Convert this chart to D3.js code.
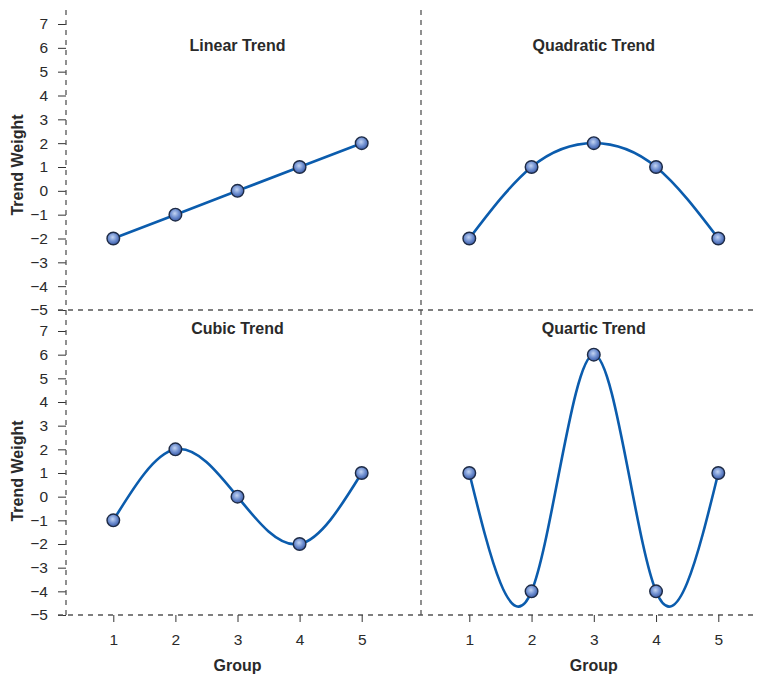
<!DOCTYPE html>
<html><head><meta charset="utf-8">
<script src="https://cdn.jsdelivr.net/npm/d3@7"></script>
<style>body{margin:0;background:#fff}svg{display:block}</style>
</head><body>
<svg id="c" width="757" height="675"></svg>
<script>
const groups = [1, 2, 3, 4, 5];
const linear = [-2, -1, 0, 1, 2];
const quadratic = [-2, 1, 2, 1, -2];
const cubic = [-1, 2, 0, -2, 1];
const quartic = [1, -4, 6, -4, 1];
const yTicks = [-5, -4, -3, -2, -1, 0, 1, 2, 3, 4, 5, 6, 7];
const titles = ["Linear Trend", "Quadratic Trend", "Cubic Trend", "Quartic Trend"];

const svg = d3.select("#c");
const font = "'Liberation Sans', Arial, sans-serif";
const defs = svg.append("defs");
const grad = defs.append("radialGradient").attr("id", "dot").attr("cx", "45%").attr("cy", "40%").attr("r", "60%");
grad.append("stop").attr("offset", "0%").attr("stop-color", "#c3d4f2");
grad.append("stop").attr("offset", "55%").attr("stop-color", "#6f8fd0");
grad.append("stop").attr("offset", "100%").attr("stop-color", "#3a5aa6");

const rows = [{y0: 310, y1: 24, ty: 51}, {y0: 615, y1: 331, ty: 334}];
const cols = [{x0: 113.3, x1: 361.7}, {x0: 469.3, x1: 718.3}];
const panels = [
  {r: 0, c: 0, data: linear, title: titles[0]},
  {r: 0, c: 1, data: quadratic, title: titles[1]},
  {r: 1, c: 0, data: cubic, title: titles[2]},
  {r: 1, c: 1, data: quartic, title: titles[3]}
];
const dash = "5,5";
const gridColor = "#555";
const txt = "#2a2a2a";

// y axes
rows.forEach((rw, i) => {
  const y = d3.scaleLinear().domain([-5, 7]).range([rw.y0, rw.y1]);
  const g = svg.append("g").attr("transform", "translate(66,0)");
  const ax = d3.axisLeft(y).tickValues(yTicks).tickSize(8).tickSizeOuter(0)
    .tickFormat(d => d < 0 ? "\u2212" + Math.abs(d) : d);
  g.call(ax);
  g.select(".domain").remove();
  g.selectAll(".tick line").attr("stroke", "#333").attr("stroke-width", 1);
  g.selectAll(".tick text").attr("font-family", font).attr("font-size", 15.5).attr("fill", txt).attr("x", -18);
  svg.append("text").attr("font-family", font).attr("font-size", 16).attr("font-weight", "bold").attr("fill", txt)
    .attr("text-anchor", "middle")
    .attr("transform", `translate(23,${(rw.y0 + rw.y1) / 2 - 2}) rotate(-90)`)
    .text("Trend Weight");
});

// dashed frame lines
svg.append("line").attr("x1", 66).attr("x2", 66).attr("y1", 10).attr("y2", 615)
  .attr("stroke", gridColor).attr("stroke-width", 1.3).attr("stroke-dasharray", dash);
svg.append("line").attr("x1", 421).attr("x2", 421).attr("y1", 10).attr("y2", 615)
  .attr("stroke", gridColor).attr("stroke-width", 1.3).attr("stroke-dasharray", dash);
svg.append("line").attr("x1", 58).attr("x2", 757).attr("y1", 310).attr("y2", 310)
  .attr("stroke", gridColor).attr("stroke-width", 1.3).attr("stroke-dasharray", dash);
svg.append("line").attr("x1", 58).attr("x2", 757).attr("y1", 615).attr("y2", 615)
  .attr("stroke", gridColor).attr("stroke-width", 1.3).attr("stroke-dasharray", dash);

// x axes
cols.forEach(cl => {
  const x = d3.scaleLinear().domain([1, 5]).range([cl.x0, cl.x1]);
  const g = svg.append("g").attr("transform", "translate(0,615)");
  g.call(d3.axisBottom(x).tickValues(groups).tickSize(7).tickSizeOuter(0).tickFormat(d3.format("d")));
  g.select(".domain").remove();
  g.selectAll(".tick line").attr("stroke", "#333");
  g.selectAll(".tick text").attr("font-family", font).attr("font-size", 15.5).attr("fill", txt).attr("y", 19);
  svg.append("text").attr("font-family", font).attr("font-size", 16).attr("font-weight", "bold").attr("fill", txt)
    .attr("text-anchor", "middle").attr("x", (cl.x0 + cl.x1) / 2).attr("y", 671).text("Group");
});

panels.forEach(p => {
  const rw = rows[p.r], cl = cols[p.c];
  const x = d3.scaleLinear().domain([1, 5]).range([cl.x0, cl.x1]);
  const y = d3.scaleLinear().domain([-5, 7]).range([rw.y0, rw.y1]);
  const pts = groups.map((g, i) => [g, p.data[i]]);
  svg.append("text").attr("font-family", font).attr("font-size", 16).attr("font-weight", "bold").attr("fill", txt)
    .attr("text-anchor", "middle").attr("x", (cl.x0 + cl.x1) / 2).attr("y", rw.ty).text(p.title);
  const line = d3.line().x(d => x(d[0])).y(d => y(d[1])).curve(p.r === 0 && p.c === 0 ? d3.curveLinear : d3.curveNatural);
  svg.append("path").datum(pts).attr("d", line).attr("fill", "none").attr("stroke", "#0b5cad").attr("stroke-width", 2.6);
  svg.selectAll(null).data(pts).enter().append("circle")
    .attr("cx", d => x(d[0])).attr("cy", d => y(d[1])).attr("r", 6.3)
    .attr("fill", "url(#dot)").attr("stroke", "#1e2b45").attr("stroke-width", 1.4);
});
</script>
</body></html>
